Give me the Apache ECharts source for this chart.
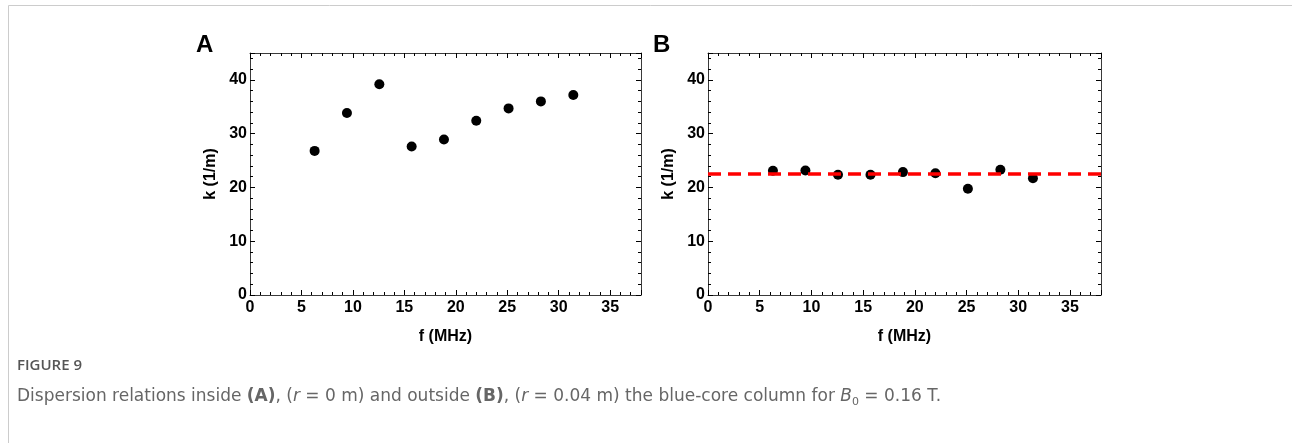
<!DOCTYPE html>
<html>
<head>
<meta charset="utf-8">
<script src="https://cdn.jsdelivr.net/npm/echarts@6/dist/echarts.min.js"></script>
<style>
html,body{margin:0;padding:0;background:#fff;}
#chart{width:1292px;height:443px;}
</style>
</head>
<body>
<div id="chart"></div>
<script>
// ---- data ----
const freqMHz = [6.28, 9.42, 12.57, 15.71, 18.85, 21.99, 25.13, 28.27, 31.42];
const kInside = [26.8, 33.85, 39.2, 27.6, 28.9, 32.4, 34.7, 36.0, 37.2];   // panel A, r = 0 m
const kOutside = [23.1, 23.15, 22.35, 22.35, 22.85, 22.65, 19.75, 23.3, 21.7]; // panel B, r = 0.04 m
const kFitOutside = [22.5]; // dashed red line, panel B
const xTicks = [0, 5, 10, 15, 20, 25, 30, 35];
const yTicks = [0, 10, 20, 30, 40];
const panelLabels = ['A', 'B'];
const xTitle = 'f (MHz)';
const yTitle = 'k (1/m)';

const chart = echarts.init(document.getElementById('chart'), null, {renderer: 'canvas'});

const frameColor = '#3a3a3a';
const FONT = 'Liberation Sans';
const tickFont = {fontFamily: FONT, fontWeight: 'bold', fontSize: 16, color: '#000'};

const grids = [
  {left: 250, top: 53, width: 391, height: 242},
  {left: 708, top: 53, width: 393, height: 242}
];

function xAxisPair(gi) {
  const common = {
    type: 'value', gridIndex: gi, min: 0, max: 38, interval: 5,
    splitLine: {show: false},
    axisLine: {show: true, onZero: false, lineStyle: {color: frameColor, width: 1}},
    axisTick: {show: true, inside: true, length: 5, lineStyle: {color: '#000'}},
    minorTick: {show: true, splitNumber: 5, length: 3, lineStyle: {color: '#000'}},
  };
  return [
    Object.assign({}, common, {
      position: 'bottom',
      name: xTitle, nameLocation: 'middle', nameGap: 34,
      nameTextStyle: Object.assign({}, tickFont),
      axisLabel: Object.assign({margin: 5, showMaxLabel: false,
        formatter: v => xTicks.indexOf(v) >= 0 ? String(v) : ''}, tickFont)
    }),
    Object.assign({}, common, {position: 'top', axisLabel: {show: false}})
  ];
}
function yAxisPair(gi) {
  const common = {
    type: 'value', gridIndex: gi, min: 0, max: 45, interval: 10,
    splitLine: {show: false},
    axisLine: {show: true, onZero: false, lineStyle: {color: frameColor, width: 1}},
    axisTick: {show: true, inside: true, length: 5, lineStyle: {color: '#000'}},
    minorTick: {show: true, splitNumber: 5, length: 3, lineStyle: {color: '#000'}},
  };
  return [
    Object.assign({}, common, {
      position: 'left',
      name: yTitle, nameLocation: 'middle', nameGap: 31, nameRotate: 90,
      nameTextStyle: Object.assign({}, tickFont),
      axisLabel: Object.assign({margin: 3, showMaxLabel: false,
        formatter: v => yTicks.indexOf(v) >= 0 ? String(v) : ''}, tickFont)
    }),
    Object.assign({}, common, {position: 'right', axisLabel: {show: false}})
  ];
}

const xAxes = [].concat(xAxisPair(0), xAxisPair(1));
const yAxes = [].concat(yAxisPair(0), yAxisPair(1));

const pairs = (ys) => freqMHz.map((f, i) => [f, ys[i]]);

const option = {
  animation: false,
  backgroundColor: '#fff',
  grid: grids,
  xAxis: xAxes,
  yAxis: yAxes,
  series: [
    {type: 'scatter', xAxisIndex: 0, yAxisIndex: 0, data: pairs(kInside),
      symbolSize: 10, itemStyle: {color: '#000', opacity: 1}},
    {type: 'scatter', xAxisIndex: 2, yAxisIndex: 2, data: pairs(kOutside),
      symbolSize: 10, itemStyle: {color: '#000', opacity: 1}, z: 3,
      markLine: {
        silent: true, symbol: 'none', label: {show: false},
        lineStyle: {color: '#ff0000', width: 3.5, type: [13, 7], opacity: 1},
        data: kFitOutside.map(v => ({yAxis: v}))
      }}
  ],
  graphic: [
    {type: 'rect', left: 6, top: 3, shape: {width: 1285, height: 460},
      style: {fill: 'none', stroke: '#cccccc', lineWidth: 1}, silent: true},
    {type: 'text', left: 196, top: 33, style: {text: panelLabels[0], font: "bold 24px 'Liberation Sans'", fill: '#000'}},
    {type: 'text', left: 653, top: 33, style: {text: panelLabels[1], font: "bold 24px 'Liberation Sans'", fill: '#000'}},
    {type: 'text', left: 17, top: 358, style: {text: 'FIGURE 9', font: "600 15px 'Open Sans'", fill: '#555'}},
    {type: 'text', left: 17, top: 386, style: {
      text: 'Dispersion relations inside {b|(A)}, ({i|r} = 0 m) and outside {b|(B)}, ({i|r} = 0.04 m) the blue-core column for {i|B}{s|0} = 0.16 T.',
      fontFamily: 'DejaVu Sans', fontSize: 17, fill: '#666', lineHeight: 22,
      rich: {
        b: {fontFamily: 'DejaVu Sans', fontSize: 17, fontWeight: 'bold', fill: '#666', lineHeight: 22},
        i: {fontFamily: 'DejaVu Sans', fontSize: 17, fontStyle: 'italic', fill: '#666', lineHeight: 22},
        s: {fontFamily: 'DejaVu Sans', fontSize: 11, fill: '#666', lineHeight: 14, verticalAlign: 'bottom'}
      }
    }}
  ]
};
chart.setOption(option);
</script>
</body>
</html>
